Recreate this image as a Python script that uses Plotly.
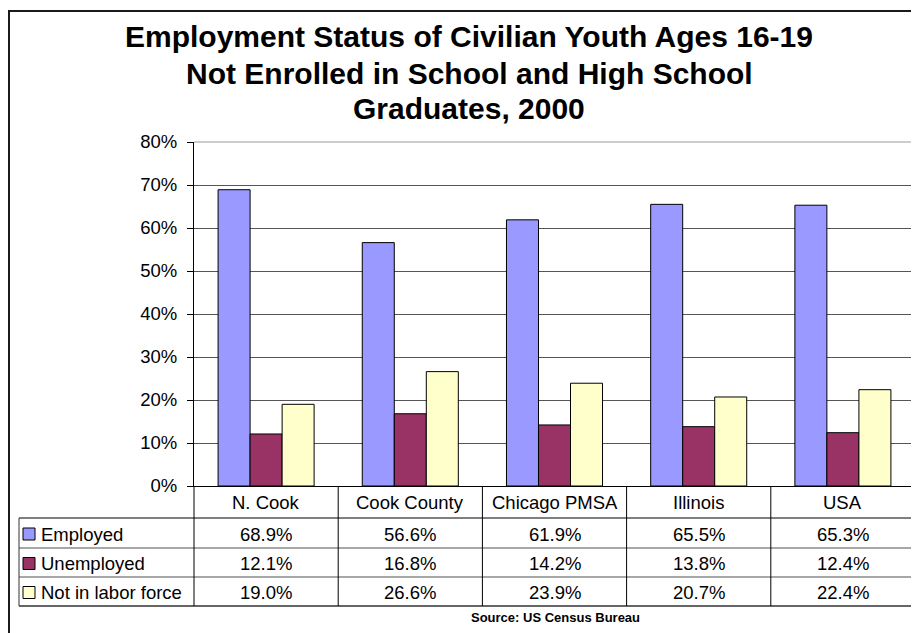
import plotly.graph_objects as go

# ---------------- data ----------------
categories = ["N. Cook", "Cook County", "Chicago PMSA", "Illinois", "USA"]
series_names = ["Employed", "Unemployed", "Not in labor force"]
employed = [68.9, 56.6, 61.9, 65.5, 65.3]
unemployed = [12.1, 16.8, 14.2, 13.8, 12.4]
not_in_labor = [19.0, 26.6, 23.9, 20.7, 22.4]
y_ticks = [0, 10, 20, 30, 40, 50, 60, 70, 80]
title_lines = ["Employment Status of Civilian Youth Ages 16-19",
               "Not Enrolled in School and High School",
               "Graduates, 2000"]
source_text = "Source: US Census Bureau"

series_values = [employed, unemployed, not_in_labor]
colors = ["#9999FF", "#993366", "#FFFFCC"]

# ---------------- geometry (page pixels) ----------------
OFF = 8  # page body margin
W, H = 919 - OFF, 633 - OFF
PL, PR, PT, PB = 194, 915, 142, 486  # plot area in page pixels


def px(x):
    return (x - PL) / (PR - PL)


def py(y):
    return (PB - y) / (PB - PT)


FONT = "Liberation Sans, Arial, sans-serif"

fig = go.Figure()
for name, vals, col in zip(series_names, series_values, colors):
    fig.add_trace(go.Bar(
        x=categories, y=vals, name=name,
        marker=dict(color=col, line=dict(color="#000000", width=1)),
        showlegend=False, hoverinfo="x+y+name",
    ))

shapes = []
annotations = []

# outer frame (cropped chart-area border)
shapes.append(dict(type="path", xref="paper", yref="paper",
                   path=f"M {px(9)} {py(640)} L {px(9)} {py(11)} L {px(930)} {py(11)}",
                   line=dict(color="#1a1a1a", width=2)))

# plot area top & right borders (gray)
shapes.append(dict(type="line", xref="paper", yref="paper", x0=0, x1=1, y0=1, y1=1,
                   line=dict(color="#9a9a9a", width=1)))
shapes.append(dict(type="line", xref="paper", yref="paper", x0=1, x1=1, y0=0, y1=1,
                   line=dict(color="#9a9a9a", width=1)))

# ---------------- data table ----------------
row_tops = [518, 548, 577, 606]
header_mid = (PB + row_tops[0]) / 2
TL = 19  # table left edge
shapes.append(dict(type="line", xref="paper", yref="paper", x0=px(TL), x1=1,
                   y0=py(row_tops[0]), y1=py(row_tops[0]), line=dict(color="#000000", width=1)))
for yy in row_tops[1:3]:
    shapes.append(dict(type="line", xref="paper", yref="paper", x0=px(TL), x1=1,
                       y0=py(yy), y1=py(yy), line=dict(color="#8a8a8a", width=1.5)))
shapes.append(dict(type="line", xref="paper", yref="paper", x0=px(TL), x1=1,
                   y0=py(row_tops[3]), y1=py(row_tops[3]), line=dict(color="#333333", width=1.5)))
shapes.append(dict(type="line", xref="paper", yref="paper", x0=px(TL), x1=px(TL),
                   y0=py(row_tops[0]), y1=py(row_tops[3]), line=dict(color="#333333", width=1)))
shapes.append(dict(type="line", xref="paper", yref="paper", x0=0, x1=0,
                   y0=0, y1=py(row_tops[3]), line=dict(color="#000000", width=1)))
for i in range(1, len(categories)):
    shapes.append(dict(type="line", xref="x", yref="paper", x0=i - 0.5, x1=i - 0.5,
                       y0=0, y1=py(row_tops[3]), line=dict(color="#000000", width=1)))
shapes.append(dict(type="line", xref="paper", yref="paper", x0=1, x1=1,
                   y0=0, y1=py(row_tops[3]), line=dict(color="#555555", width=1.5)))

TFS = 18.5
for c in categories:
    annotations.append(dict(x=c, xref="x", y=py(header_mid), yref="paper", text=c,
                            showarrow=False, xanchor="center", yanchor="middle",
                            font=dict(family=FONT, size=TFS, color="#000000")))
for r, (name, vals, col) in enumerate(zip(series_names, series_values, colors)):
    ymid = (row_tops[r] + row_tops[r + 1]) / 2 + 1
    shapes.append(dict(type="rect", xref="paper", yref="paper",
                       x0=px(23), x1=px(35), y0=py(ymid - 6), y1=py(ymid + 6),
                       fillcolor=col, line=dict(color="#000000", width=1)))
    annotations.append(dict(x=px(39), xref="paper", y=py(ymid), yref="paper", text=name,
                            showarrow=False, xanchor="left", yanchor="middle",
                            font=dict(family=FONT, size=TFS, color="#000000")))
    for c, v in zip(categories, vals):
        annotations.append(dict(x=c, xref="x", y=py(ymid), yref="paper", text=f"{v:.1f}%",
                                showarrow=False, xanchor="center", yanchor="middle",
                                font=dict(family=FONT, size=TFS, color="#000000")))

annotations.append(dict(x=px(555), xref="paper", y=py(617), yref="paper", text=f"<b>{source_text}</b>",
                        showarrow=False, xanchor="center", yanchor="middle",
                        font=dict(family=FONT, size=13, color="#000000")))
for line, yc in zip(title_lines, [37, 73, 108]):
    annotations.append(dict(x=px(469), xref="paper", y=py(yc), yref="paper", text=f"<b>{line}</b>",
                            showarrow=False, xanchor="center", yanchor="middle",
                            font=dict(family=FONT, size=30, color="#000000")))

fig.update_layout(
    width=W, height=H,
    margin=dict(l=PL - OFF, r=919 - PR, t=PT - OFF, b=633 - PB, pad=0),
    paper_bgcolor="#ffffff", plot_bgcolor="#ffffff",
    barmode="group", bargap=0.334, bargroupgap=0,
    shapes=shapes, annotations=annotations,
    xaxis=dict(showticklabels=False, ticks="", showgrid=False, zeroline=False,
               showline=True, linecolor="#000000", linewidth=1, fixedrange=True),
    yaxis=dict(range=[0, 80], tickvals=y_ticks, ticktext=[f"{t}%" for t in y_ticks],
               ticks="outside", ticklen=6, tickcolor="#000000", tickwidth=1,
               showline=True, linecolor="#000000", linewidth=1,
               showgrid=True, gridcolor="#555555", gridwidth=1, zeroline=False,
               ticklabelstandoff=6,
               tickfont=dict(family=FONT, size=TFS, color="#000000"), fixedrange=True),
    font=dict(family=FONT),
)

fig.write_html("out.html")
